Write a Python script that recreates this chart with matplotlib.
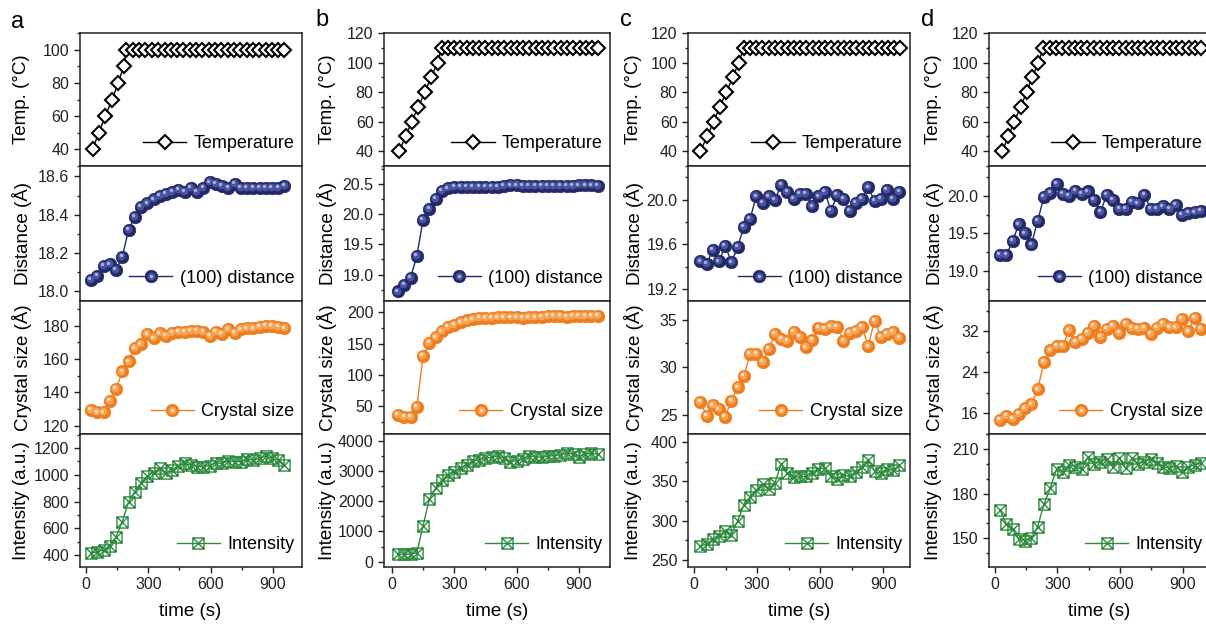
import numpy as np
import matplotlib
matplotlib.use('Agg')
import matplotlib.pyplot as plt
from matplotlib.path import Path
from matplotlib.ticker import MultipleLocator, FixedLocator, FormatStrFormatter
from matplotlib.transforms import offset_copy
from matplotlib.legend_handler import HandlerTuple

plt.rcParams['font.family'] = ['Liberation Sans', 'DejaVu Sans']

# ---------------- data ----------------
# column a
t_temp_a = [32, 62, 93, 126, 155, 182, 195, 225, 256, 286, 317, 347, 378, 408, 438, 469, 499,
            530, 560, 590, 621, 651, 682, 712, 742, 773, 803, 834, 864, 894, 925, 955]
temp_a = [40, 50, 60, 70, 80, 90, 100, 100, 100, 100, 100, 100, 100, 100, 100, 100, 100,
          100, 100, 100, 100, 100, 100, 100, 100, 100, 100, 100, 100, 100, 100, 100]
t_xrd_a = [25, 55, 85, 115, 145, 175, 205, 235, 265, 295, 325, 355, 385, 415, 445, 475,
           505, 535, 565, 595, 625, 655, 685, 715, 745, 775, 805, 835, 865, 895, 925, 955]
dist_a = [18.06, 18.08, 18.13, 18.14, 18.11, 18.18, 18.32, 18.39, 18.44, 18.46, 18.48, 18.50,
          18.51, 18.52, 18.53, 18.52, 18.54, 18.52, 18.54, 18.57, 18.56, 18.55, 18.54, 18.56,
          18.54, 18.54, 18.54, 18.54, 18.54, 18.54, 18.54, 18.55]
size_a = [129.6, 128, 128, 135, 142, 152.5, 158.5, 166.4, 168.8, 174.8, 172.4, 175.4, 173.8,
          175.8, 176.4, 176.4, 176.8, 177, 176.4, 174, 176.4, 175, 177.8, 175.8, 177.8, 178.4,
          178.4, 179, 180, 180, 179, 178.4]
inten_a = [412, 425, 437, 467, 537, 649, 799, 873, 936, 991, 1015, 1048, 1011, 1035, 1065,
           1085, 1073, 1060, 1060, 1068, 1090, 1085, 1105, 1098, 1098, 1115, 1110, 1123, 1140,
           1123, 1110, 1073]

# column b
t_temp_b = [35, 66, 95, 127, 159, 188, 220, 239, 269, 299, 329, 360, 390, 420, 450, 480, 511,
            541, 571, 601, 631, 661, 692, 722, 752, 782, 812, 842, 873, 903, 933, 963, 993]
temp_b = [40, 50, 60, 70, 80, 90, 100, 110, 110, 110, 110, 110, 110, 110, 110, 110, 110,
          110, 110, 110, 110, 110, 110, 110, 110, 110, 110, 110, 110, 110, 110, 110, 110]
t_xrd_b = [30, 60, 90, 120, 150, 180, 210, 240, 270, 300, 330, 360, 390, 420, 450, 480, 510,
           540, 570, 600, 630, 660, 690, 720, 750, 780, 810, 840, 870, 900, 930, 960, 990]
dist_b = [18.72, 18.83, 18.95, 19.31, 19.91, 20.09, 20.25, 20.39, 20.43, 20.46, 20.45, 20.46,
          20.46, 20.46, 20.46, 20.46, 20.46, 20.47, 20.48, 20.48, 20.47, 20.47, 20.47, 20.47,
          20.47, 20.47, 20.47, 20.47, 20.47, 20.48, 20.48, 20.48, 20.47]
size_b = [35.5, 33, 33, 49, 130, 150.7, 160, 169.5, 176.4, 180, 184, 187, 189, 191, 191, 191,
          192, 192, 192, 192, 191, 192, 192, 193, 194, 194, 194, 193, 194, 194, 194, 194, 194]
inten_b = [242, 253, 253, 297, 1190, 2072, 2424, 2700, 2865, 2975, 3085, 3196, 3339, 3361,
           3416, 3449, 3493, 3416, 3306, 3339, 3383, 3493, 3471, 3449, 3493, 3504, 3526, 3581,
           3559, 3471, 3559, 3581, 3559]

# column c
t_temp_c = [30, 62, 94, 122, 154, 184, 213, 236, 266, 296, 325, 355, 385, 415, 445, 475, 505,
            534, 564, 594, 624, 654, 684, 713, 743, 773, 803, 833, 863, 893, 922, 952, 982]
temp_c = [40, 50, 60, 70, 80, 90, 100, 110, 110, 110, 110, 110, 110, 110, 110, 110, 110,
          110, 110, 110, 110, 110, 110, 110, 110, 110, 110, 110, 110, 110, 110, 110, 110]
t_xrd_c = [30, 60, 89, 119, 148, 178, 208, 237, 267, 296, 326, 356, 385, 415, 444, 474, 504,
           533, 563, 592, 622, 652, 681, 711, 740, 770, 800, 829, 859, 888, 918, 948, 977]
dist_c = [19.45, 19.43, 19.55, 19.45, 19.59, 19.44, 19.58, 19.76, 19.83, 20.03, 19.97, 20.03,
          20.00, 20.13, 20.07, 20.01, 20.05, 20.05, 19.94, 20.03, 20.07, 19.90, 20.04, 20.01,
          19.90, 19.97, 20.01, 20.11, 19.99, 20.01, 20.09, 20.01, 20.07]
size_c = [26.4, 24.9, 26.0, 25.6, 24.8, 26.5, 27.9, 29.1, 31.4, 31.4, 30.6, 31.9, 33.5, 33.0,
          32.8, 33.7, 33.2, 32.1, 32.9, 34.1, 34.0, 34.3, 34.2, 32.8, 33.6, 33.8, 34.2, 32.2,
          34.9, 33.2, 33.5, 33.7, 33.1]
inten_c = [267.7, 270, 276, 280, 287, 282, 300, 320, 330, 339, 346, 340, 348, 372, 360, 355,
           356, 356, 361, 365, 367, 356, 353, 358, 356, 362, 368, 377, 363, 360, 365, 364, 370]

# column d
t_temp_d = [37, 65, 94, 124, 153, 180, 209, 233, 263, 293, 324, 354, 384, 414, 444, 475, 505,
            535, 565, 595, 626, 656, 686, 716, 746, 777, 807, 837, 867, 897, 928, 958, 988]
temp_d = [40, 50, 60, 70, 80, 90, 100, 110, 110, 110, 110, 110, 110, 110, 110, 110, 110,
          110, 110, 110, 110, 110, 110, 110, 110, 110, 110, 110, 110, 110, 110, 110, 110]
t_xrd_d = [26, 56, 86, 116, 146, 176, 206, 236, 266, 296, 326, 356, 386, 416, 446, 476, 506,
           536, 566, 596, 626, 656, 686, 716, 746, 776, 806, 836, 866, 896, 926, 956, 986]
dist_d = [19.21, 19.21, 19.40, 19.62, 19.50, 19.35, 19.67, 19.99, 20.04, 20.16, 20.03, 20.00,
          20.07, 20.03, 20.06, 19.95, 19.79, 20.01, 19.95, 19.83, 19.83, 19.92, 19.90, 20.01,
          19.83, 19.83, 19.86, 19.83, 19.88, 19.75, 19.77, 19.78, 19.80]
size_d = [14.8, 15.5, 15.0, 15.9, 17.0, 17.8, 20.7, 26.1, 28.3, 29.1, 29.2, 32.2, 30.0, 30.5,
          31.7, 33.0, 30.9, 32.5, 33.0, 31.7, 33.5, 32.7, 32.5, 32.7, 31.5, 32.7, 33.5, 32.8,
          32.8, 34.4, 32.0, 34.6, 32.5]
inten_d = [169.1, 159.7, 156.1, 149.3, 148.4, 150.0, 157.9, 173.1, 183.7, 196.5, 194.9, 199.4,
           198.3, 196.5, 204.6, 200.1, 201.7, 203.3, 198.3, 203.9, 197.2, 203.9, 200.1, 201.7,
           203.3, 201.0, 198.3, 197.2, 198.8, 194.9, 198.3, 199.4, 200.6]

panel_letters = ['a', 'b', 'c', 'd']
row_labels = ['Temp. (°C)', 'Distance (Å)', 'Crystal size (Å)', 'Intensity (a.u.)']
legend_labels = ['Temperature', '(100) distance', 'Crystal size', 'Intensity']

columns = [
    dict(t_temp=t_temp_a, temp=temp_a, t=t_xrd_a, dist=dist_a, size=size_a, inten=inten_a),
    dict(t_temp=t_temp_b, temp=temp_b, t=t_xrd_b, dist=dist_b, size=size_b, inten=inten_b),
    dict(t_temp=t_temp_c, temp=temp_c, t=t_xrd_c, dist=dist_c, size=size_c, inten=inten_c),
    dict(t_temp=t_temp_d, temp=temp_d, t=t_xrd_d, dist=dist_d, size=size_d, inten=inten_d),
]

# axis settings per column: (ylim, major ticks, minor step, fmt) for each row
ysets = [
    [((30, 110), [40, 60, 80, 100], 10, '%d'),
     ((17.95, 18.655), [18.0, 18.2, 18.4, 18.6], 0.1, '%.1f'),
     ((115, 195), [120, 140, 160, 180], 10, '%d'),
     ((310, 1305), [400, 600, 800, 1000, 1200], 100, '%d')],
    [((30, 120), [40, 60, 80, 100, 120], 10, '%d'),
     ((18.57, 20.8), [19.0, 19.5, 20.0, 20.5], 0.25, '%.1f'),
     ((5, 219), [50, 100, 150, 200], 25, '%d'),
     ((-175, 4220), [0, 1000, 2000, 3000, 4000], 500, '%d')],
    [((30, 120), [40, 60, 80, 100, 120], 10, '%d'),
     ((19.1, 20.3), [19.2, 19.6, 20.0], 0.2, '%.1f'),
     ((23, 37), [25, 30, 35], 2.5, '%d'),
     ((241, 410), [250, 300, 350, 400], 25, '%d')],
    [((30, 120), [40, 60, 80, 100, 120], 10, '%d'),
     ((18.6, 20.4), [19.0, 19.5, 20.0], 0.25, '%.1f'),
     ((12, 38), [16, 24, 32], 4, '%d'),
     ((130.6, 220.3), [150, 180, 210], 10, '%d')],
]

# layout in pixels
W, H = 1206, 626
col_px = [(79.5, 301.5, -31, 1037), (384, 610, -38, 1049), (688, 910, -29, 1028), (989, 1210, -27, 1030)]
row_px = [33, 166, 300.5, 434, 567]
letter_px = [(18, 22), (322, 20), (626, 20), (928, 20)]
ylabel_px = [22, 327, 634, 934]

navy = ('#232866', '#4A539E', '#A9B0DE')
orange = ('#EE7D1F', '#F6A458', '#FDE0BE')
green = '#2E8B3F'

# crossed square marker
xsq = Path([(-1, -1), (1, -1), (1, 1), (-1, 1), (-1, -1), (-1, -1), (1, 1), (-1, 1), (1, -1)],
           [Path.MOVETO, Path.LINETO, Path.LINETO, Path.LINETO, Path.CLOSEPOLY,
            Path.MOVETO, Path.LINETO, Path.MOVETO, Path.LINETO])

fig = plt.figure(figsize=(W / 100, H / 100), dpi=100)


def balls(ax, t, y, cols, label):
    # shaded "sphere" markers: dark base, lighter core and a small highlight
    base, = ax.plot(t, y, '-o', color=cols[0], lw=1.0, ms=9, mfc=cols[0], mec=cols[0],
                    mew=0.5, zorder=3, label=label)
    tr1 = offset_copy(ax.transData, fig=fig, x=-0.9, y=0.9, units='dots')
    tr2 = offset_copy(ax.transData, fig=fig, x=-1.7, y=1.7, units='dots')
    mid, = ax.plot(t, y, 'o', ms=5.6, mfc=cols[1], mec='none', zorder=4, transform=tr1)
    hi, = ax.plot(t, y, 'o', ms=2.4, mfc=cols[2], mec='none', zorder=5, transform=tr2)
    return (base, mid, hi)


for ci, col in enumerate(columns):
    left, right, x0, x1 = col_px[ci]
    axes = []
    for ri in range(4):
        top, bot = row_px[ri], row_px[ri + 1]
        ax = fig.add_axes([left / W, 1 - bot / H, (right - left) / W, (bot - top) / H])
        ax.set_xlim(x0, x1)
        ylim, ticks, minor, fmt = ysets[ci][ri]
        ax.set_ylim(*ylim)
        ax.yaxis.set_major_locator(FixedLocator(ticks))
        ax.yaxis.set_minor_locator(MultipleLocator(minor))
        ax.yaxis.set_major_formatter(FormatStrFormatter(fmt))
        ax.xaxis.set_major_locator(FixedLocator([0, 300, 600, 900]))
        ax.xaxis.set_minor_locator(FixedLocator([150, 450, 750]))
        ax.tick_params(axis='y', which='major', direction='out', length=4.5, width=1.0,
                       labelsize=11.5, pad=3, colors='#222222')
        ax.tick_params(axis='y', which='minor', direction='out', length=2.5, width=1.0, colors='#222222')
        if ri < 3:
            ax.tick_params(axis='x', which='both', bottom=False, labelbottom=False)
        else:
            ax.tick_params(axis='x', which='major', direction='out', length=4.5, width=1.0,
                           labelsize=11.5, pad=3, colors='#222222')
            ax.tick_params(axis='x', which='minor', direction='out', length=2.5, width=1.0,
                           colors='#222222')
            ax.set_xlabel('time (s)', fontsize=13.5, va='center')
            ax.xaxis.set_label_coords(0.5, (567 - 612) / (bot - top))
        for sp in ax.spines.values():
            sp.set_linewidth(1.1)
            sp.set_color('#222222')
        ax.set_ylabel(row_labels[ri], fontsize=13.5, va='center')
        ax.yaxis.set_label_coords((ylabel_px[ci] - left) / (right - left), 0.5)
        axes.append(ax)

    # temperature
    h0, = axes[0].plot(col['t_temp'], col['temp'], '-', color='black', lw=1.0, marker='D', ms=7,
                       mfc='white', mec='black', mew=1.5, label=legend_labels[0])
    h1 = balls(axes[1], col['t'], col['dist'], navy, legend_labels[1])
    h2 = balls(axes[2], col['t'], col['size'], orange, legend_labels[2])
    h3, = axes[3].plot(col['t'], col['inten'], '-', color=green, lw=1.0, marker=xsq, ms=8,
                       mfc='none', mec=green, mew=1.0, label=legend_labels[3])

    for ax, h, lab in zip(axes, [h0, h1, h2, h3], legend_labels):
        ax.legend([h], [lab], loc='lower right', bbox_to_anchor=(1.0, 0.05), frameon=False,
                  fontsize=13, handlelength=2.4, handletextpad=0.4, borderaxespad=0.2,
                  borderpad=0.2, handler_map={tuple: HandlerTuple(ndivide=1)})

    lx, ly = letter_px[ci]
    fig.text(lx / W, 1 - ly / H, panel_letters[ci], fontsize=17, ha='center', va='center')

fig.savefig('out.png', dpi=100)
